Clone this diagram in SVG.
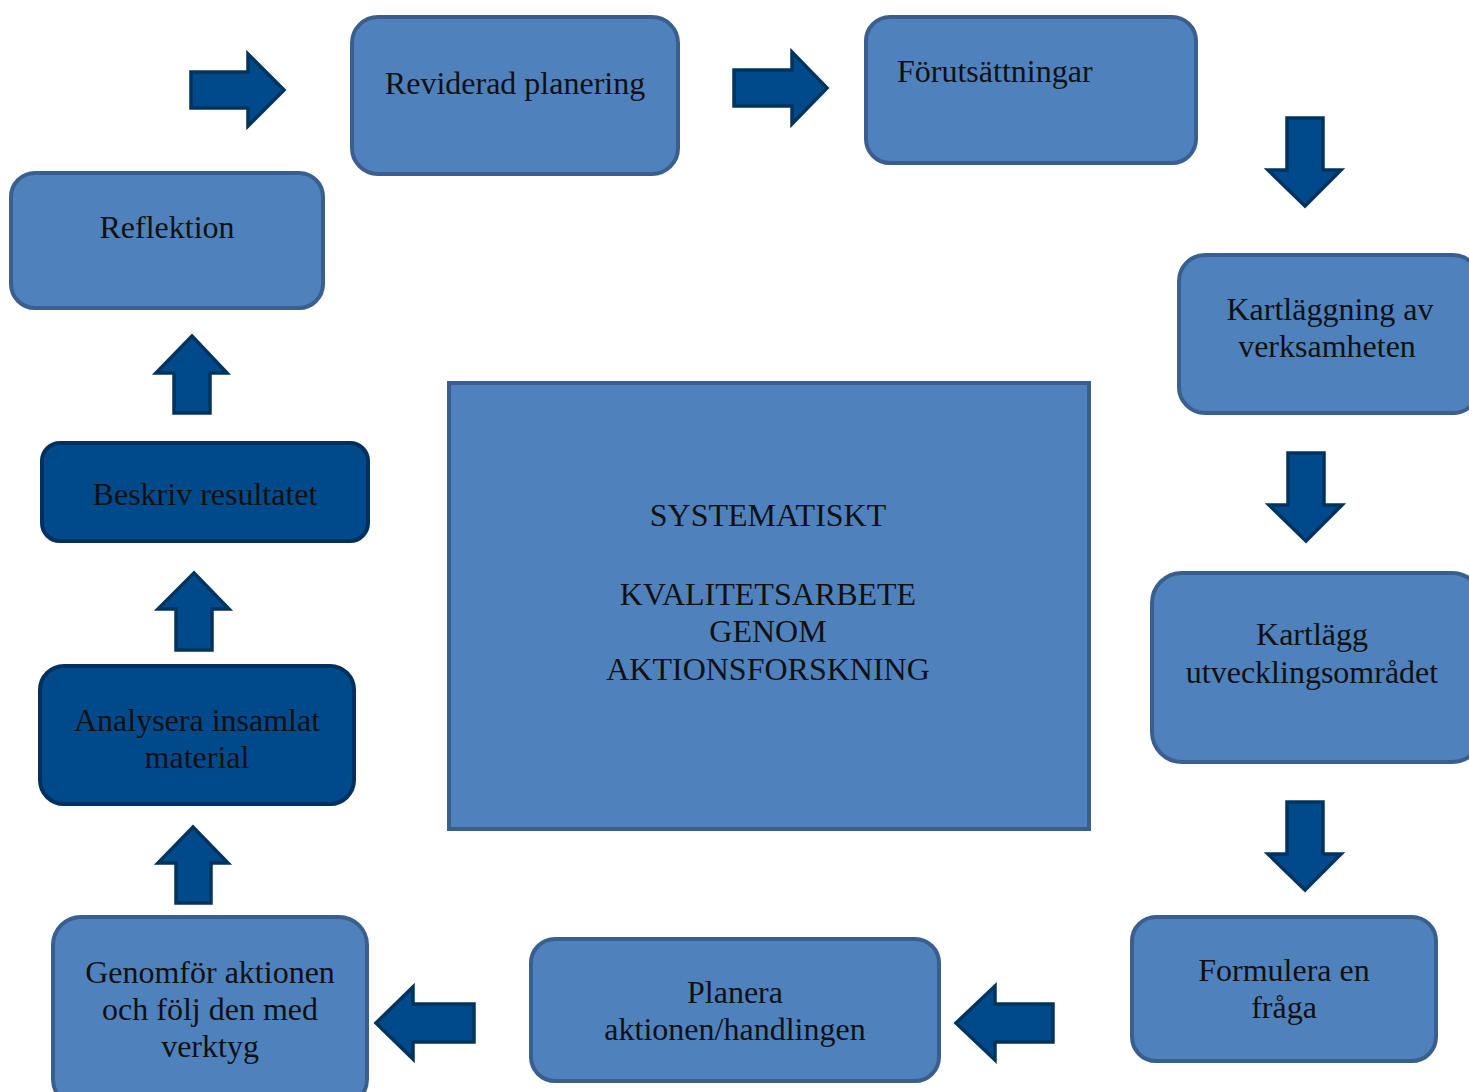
<svg xmlns="http://www.w3.org/2000/svg" width="1469" height="1092" viewBox="0 0 1469 1092">
<style>
.box{fill:#4F81BD;stroke:#3A5F8F;stroke-width:4}
.dark{fill:#004A8B;stroke:#00305E;stroke-width:4}
.arr{fill:#004A8B;stroke:#00345F;stroke-width:3.5;stroke-linejoin:miter}
text{font-family:"Liberation Serif","Times New Roman",serif;font-size:32px;fill:#111;text-anchor:middle}
</style>
<rect width="1469" height="1092" fill="#fff"/>
<g id="connectors">
<path class="arr" d="M191,72 H248 V54 L284,90 L248,126 V108 H191 Z"/>
<path class="arr" d="M734,70 H792 V52 L827,88 L792,124 V106 H734 Z"/>
<path class="arr" d="M1287,118 V170 H1268 L1305,206 L1341,170 H1323 V118 Z"/>
<path class="arr" d="M1288,453 V505 H1269 L1306,541 L1342,505 H1324 V453 Z"/>
<path class="arr" d="M1287,802 V854 H1268 L1305,890 L1341,854 H1323 V802 Z"/>
<path class="arr" d="M1053,1004 H995 V986 L956,1023 L995,1060 V1042 H1053 Z"/>
<path class="arr" d="M474,1004 H413 V987 L376,1023 L413,1059 V1042 H474 Z"/>
<path class="arr" d="M176,903 V863 H158 L193,827 L228,863 H211 V903 Z"/>
<path class="arr" d="M176,650 V609 H158 L194,573 L229,609 H212 V650 Z"/>
<path class="arr" d="M174,413 V373 H156 L192,336 L227,373 H210 V413 Z"/>
</g>
<g id="center">
<rect class="box" x="449" y="383" width="640" height="446"/>
<text x="768" y="526">SYSTEMATISKT</text>
<text x="768" y="605">KVALITETSARBETE</text>
<text x="768" y="642">GENOM</text>
<text x="768" y="680">AKTIONSFORSKNING</text>
</g>
<g id="reviderad">
<rect class="box" x="352" y="17" width="326" height="157" rx="26"/>
<text x="515" y="94">Reviderad planering</text>
</g>
<g id="forutsattningar">
<rect class="box" x="866" y="17" width="330" height="146" rx="24"/>
<text x="897" y="82" style="text-anchor:start">Förutsättningar</text>
</g>
<g id="reflektion">
<rect class="box" x="11" y="173" width="312" height="135" rx="24"/>
<text x="167" y="238">Reflektion</text>
</g>
<g id="kartlaggning">
<rect class="box" x="1179" y="255" width="300" height="158" rx="26"/>
<text x="1330" y="320">Kartläggning av</text>
<text x="1327" y="357">verksamheten</text>
</g>
<g id="kartlagg">
<rect class="box" x="1152" y="573" width="330" height="189" rx="30"/>
<text x="1312" y="645">Kartlägg</text>
<text x="1312" y="683">utvecklingsområdet</text>
</g>
<g id="formulera">
<rect class="box" x="1132" y="917" width="304" height="144" rx="24"/>
<text x="1284" y="981">Formulera en</text>
<text x="1284" y="1018">fråga</text>
</g>
<g id="planera">
<rect class="box" x="531" y="939" width="408" height="142" rx="24"/>
<text x="735" y="1003">Planera</text>
<text x="735" y="1040">aktionen/handlingen</text>
</g>
<g id="genomfor">
<rect class="box" x="53" y="917" width="314" height="190" rx="28"/>
<text x="210" y="983">Genomför aktionen</text>
<text x="210" y="1020">och följ den med</text>
<text x="210" y="1057">verktyg</text>
</g>
<g id="analysera">
<rect class="dark" x="40" y="666" width="314" height="138" rx="24"/>
<text x="197" y="731">Analysera insamlat</text>
<text x="197" y="768">material</text>
</g>
<g id="beskriv">
<rect class="dark" x="42" y="443" width="326" height="98" rx="18"/>
<text x="205" y="505">Beskriv resultatet</text>
</g>
</svg>
